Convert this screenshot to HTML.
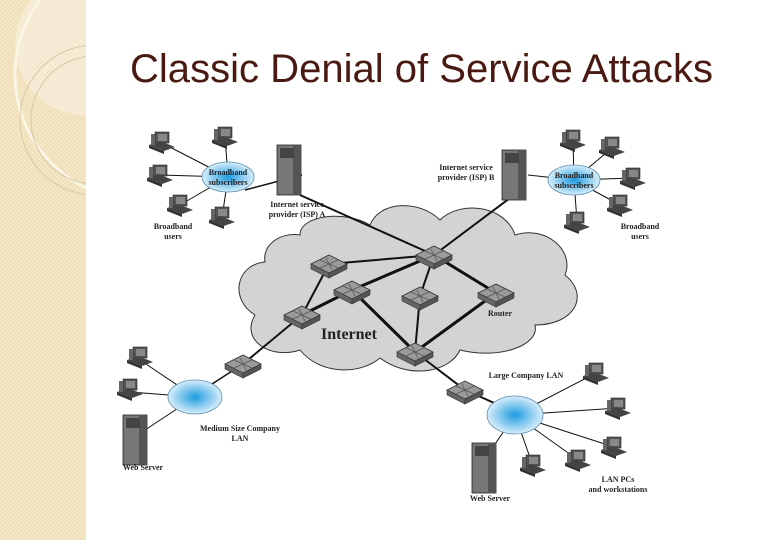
<!DOCTYPE html>
<html><head><meta charset="utf-8"><style>
body{margin:0;width:780px;height:540px;overflow:hidden;background:#fff;font-family:"Liberation Sans",sans-serif}
</style></head><body>
<svg width="780" height="540" viewBox="0 0 780 540" xmlns="http://www.w3.org/2000/svg">
<defs>
<pattern id="chk" width="4" height="4" patternUnits="userSpaceOnUse"><rect width="4" height="4" fill="#efe0b9"/><rect width="2" height="2" fill="#f3e7c8"/><rect x="2" y="2" width="2" height="2" fill="#f3e7c8"/></pattern>
<radialGradient id="blue"><stop offset="0" stop-color="#1e9be0"/><stop offset="0.6" stop-color="#8fcdf0"/><stop offset="1" stop-color="#d8eefa"/></radialGradient>
<g id="rt"><polygon points="-18,0 0,-9 18,0 0,9" fill="#9a9a9a" stroke="#333" stroke-width="0.8"/><polygon points="-18,0 0,9 0,14 -18,5" fill="#666" stroke="#333" stroke-width="0.6"/><polygon points="18,0 0,9 0,14 18,5" fill="#555" stroke="#333" stroke-width="0.6"/><path d="M-9,-4 L9,4 M-9,4 L9,-4 M-3,-6 L3,6" stroke="#555" stroke-width="0.8" fill="none"/></g>
<g id="pc"><rect x="-7" y="-13" width="14" height="11" fill="#555" stroke="#222" stroke-width="0.6"/><rect x="-4" y="-11" width="9" height="7" fill="#888"/><polygon points="-13,0 -2,-4 13,2 2,6" fill="#444"/><polygon points="-13,0 2,6 2,9 -13,3" fill="#333"/><rect x="-11" y="-11" width="4" height="11" fill="#666"/></g>
<g id="sv"><rect x="-12" y="-25" width="24" height="50" fill="#777" stroke="#222" stroke-width="0.8"/><rect x="4" y="-25" width="8" height="50" fill="#555"/><rect x="-9" y="-22" width="14" height="10" fill="#444"/></g>
</defs>
<rect x="0" y="0" width="87" height="540" fill="url(#chk)"/>
<circle cx="85" cy="45" r="70" fill="rgba(255,255,255,0.3)"/>
<circle cx="140" cy="75" r="125" fill="none" stroke="#fbf5e6" stroke-width="3"/>
<circle cx="95" cy="120" r="75" fill="none" stroke="#d8c9a4" stroke-width="1"/>
<circle cx="95" cy="120" r="64" fill="none" stroke="#d8c9a4" stroke-width="1"/>
<rect x="86" y="0" width="694" height="540" fill="#fff"/>
<text x="130" y="82" font-size="40" fill="#4a1a12" font-family="Liberation Sans,sans-serif" textLength="583" lengthAdjust="spacingAndGlyphs">Classic Denial of Service Attacks</text>

<g fill="#d3d3d3" stroke="#333" stroke-width="1">
<path d="M265,262 C235,265 230,300 255,315 C240,340 270,360 300,350 C320,375 360,375 380,358 C410,380 450,372 460,350 C500,360 540,345 535,325 C575,325 590,295 565,275 C575,250 545,225 515,235 C505,205 460,200 440,220 C420,200 380,200 370,225 C345,210 300,215 300,235 C280,232 262,245 265,262 Z"/>
</g>
<g stroke="#111" fill="none">
<line x1="245" y1="190" x2="302" y2="175" stroke-width="1.5"/>
<line x1="300" y1="195" x2="434" y2="255" stroke-width="2"/>
<line x1="434" y1="255" x2="510" y2="198" stroke-width="2"/>
<line x1="329" y1="264" x2="434" y2="255" stroke-width="2"/>
<line x1="352" y1="290" x2="434" y2="255" stroke-width="3"/>
<line x1="434" y1="255" x2="496" y2="293" stroke-width="3"/>
<line x1="434" y1="255" x2="420" y2="296" stroke-width="2"/>
<line x1="329" y1="264" x2="302" y2="315" stroke-width="2"/>
<line x1="302" y1="315" x2="352" y2="290" stroke-width="3"/>
<line x1="352" y1="290" x2="415" y2="352" stroke-width="3"/>
<line x1="420" y1="296" x2="415" y2="352" stroke-width="2"/>
<line x1="496" y1="293" x2="415" y2="352" stroke-width="3"/>
<line x1="302" y1="315" x2="243" y2="364" stroke-width="2"/>
<line x1="243" y1="364" x2="195" y2="395" stroke-width="1.5"/>
<line x1="415" y1="352" x2="465" y2="390" stroke-width="2"/>
<line x1="465" y1="390" x2="510" y2="410" stroke-width="2"/>
<line x1="528" y1="175" x2="574" y2="180" stroke-width="1"/>
</g>
<g stroke="#111" stroke-width="1">
<line x1="228" y1="177" x2="162" y2="143"/><line x1="228" y1="177" x2="225" y2="137"/><line x1="228" y1="177" x2="160" y2="175"/><line x1="228" y1="177" x2="180" y2="205"/><line x1="228" y1="177" x2="222" y2="218"/>
<line x1="574" y1="180" x2="573" y2="140"/><line x1="574" y1="180" x2="612" y2="148"/><line x1="574" y1="180" x2="633" y2="178"/><line x1="574" y1="180" x2="620" y2="205"/><line x1="574" y1="180" x2="577" y2="222"/>
<line x1="195" y1="397" x2="140" y2="360"/><line x1="195" y1="397" x2="130" y2="392"/><line x1="195" y1="397" x2="142" y2="432"/>
<line x1="515" y1="415" x2="596" y2="373"/><line x1="515" y1="415" x2="618" y2="408"/><line x1="515" y1="415" x2="614" y2="447"/><line x1="515" y1="415" x2="578" y2="460"/><line x1="515" y1="415" x2="533" y2="466"/><line x1="515" y1="415" x2="484" y2="460"/>
</g>
<ellipse cx="228" cy="177" rx="26" ry="15" fill="url(#blue)" stroke="#5a8fb0" stroke-width="0.8"/>
<ellipse cx="574" cy="180" rx="26" ry="15" fill="url(#blue)" stroke="#5a8fb0" stroke-width="0.8"/>
<ellipse cx="195" cy="397" rx="27" ry="17" fill="url(#blue)" stroke="#5a8fb0" stroke-width="0.8"/>
<ellipse cx="515" cy="415" rx="28" ry="19" fill="url(#blue)" stroke="#5a8fb0" stroke-width="0.8"/>
<use href="#rt" x="434" y="255"/><use href="#rt" x="329" y="264"/><use href="#rt" x="352" y="290"/><use href="#rt" x="302" y="315"/><use href="#rt" x="420" y="296"/><use href="#rt" x="496" y="293"/><use href="#rt" x="415" y="352"/><use href="#rt" x="243" y="364"/><use href="#rt" x="465" y="390"/>
<use href="#sv" x="289" y="170"/><use href="#sv" x="514" y="175"/><use href="#sv" x="135" y="440"/><use href="#sv" x="484" y="468"/>
<use href="#pc" x="162" y="145"/><use href="#pc" x="225" y="140"/><use href="#pc" x="160" y="178"/><use href="#pc" x="180" y="208"/><use href="#pc" x="222" y="220"/>
<use href="#pc" x="573" y="143"/><use href="#pc" x="612" y="150"/><use href="#pc" x="633" y="181"/><use href="#pc" x="620" y="208"/><use href="#pc" x="577" y="225"/>
<use href="#pc" x="140" y="360"/><use href="#pc" x="130" y="392"/>
<use href="#pc" x="596" y="376"/><use href="#pc" x="618" y="411"/><use href="#pc" x="614" y="450"/><use href="#pc" x="578" y="463"/><use href="#pc" x="533" y="468"/>
<g font-family="Liberation Serif,serif" font-weight="bold" font-size="8" fill="#222" text-anchor="middle">
<text x="228" y="175" fill="#123">Broadband</text><text x="228" y="185">subscribers</text>
<text x="574" y="178">Broadband</text><text x="574" y="188">subscribers</text>
<text x="173" y="229">Broadband</text><text x="173" y="239">users</text>
<text x="640" y="229">Broadband</text><text x="640" y="239">users</text>
<text x="297" y="207">Internet service</text><text x="297" y="217">provider (ISP) A</text>
<text x="466" y="170">Internet service</text><text x="466" y="180">provider (ISP) B</text>
<text x="500" y="316">Router</text>
<text x="526" y="378">Large Company LAN</text>
<text x="240" y="431">Medium Size Company</text><text x="240" y="441">LAN</text>
<text x="143" y="470">Web Server</text>
<text x="490" y="501">Web Server</text>
<text x="618" y="482">LAN PCs</text><text x="618" y="492">and workstations</text>
<text x="349" y="339" font-size="16">Internet</text>
</g>
</svg>
</body></html>
